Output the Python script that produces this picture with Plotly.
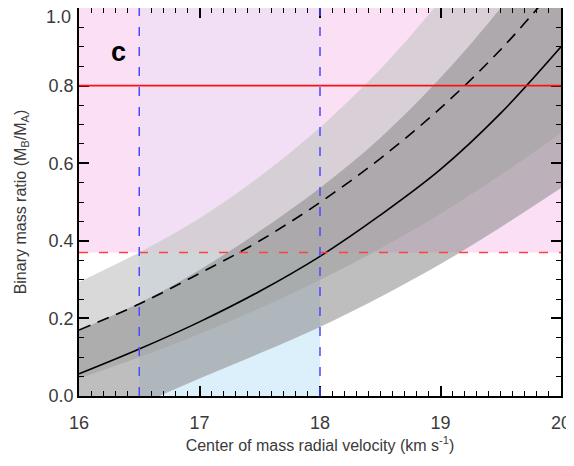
import plotly.graph_objects as go

# ---- data ----
velocity = [16.0, 16.5, 17.0, 17.5, 18.0, 18.5, 19.0, 19.5, 20.0]
ratio_solid = [0.057, 0.121, 0.191, 0.270, 0.360, 0.466, 0.584, 0.729, 0.900]
ratio_dashed = [0.170, 0.237, 0.316, 0.400, 0.499, 0.612, 0.742, 0.893, 1.070]
bandA_upper = [0.294, 0.370, 0.458, 0.566, 0.692, 0.842, 1.020, 1.220, 1.440]
bandA_lower = [0.045, 0.100, 0.160, 0.226, 0.299, 0.380, 0.470, 0.570, 0.678]
bandB_upper = [0.170, 0.240, 0.325, 0.425, 0.536, 0.665, 0.820, 1.000, 1.200]
bandB_lower = [-0.085, -0.022, 0.045, 0.110, 0.178, 0.255, 0.340, 0.435, 0.536]

q_limit_solid = 0.8
q_limit_dashed = 0.37
v_lo, v_hi = 16.5, 18.0
x_range = [16, 20]
y_range = [0, 1.0]
x_ticks = [16, 17, 18, 19, 20]
y_ticks = [0.0, 0.2, 0.4, 0.6, 0.8, 1.0]
y_ticktext = ["0.0", "0.2", "0.4", "0.6", "0.8", ""]
top_label = "1.0"

PINK = "rgb(251,223,245)"
LAV = "rgb(243,223,245)"
BLUE = "rgb(220,240,252)"
FONT = "Liberation Sans, Arial, sans-serif"
TXT = "#3a3a3a"

fig = go.Figure()

# bands
fig.add_trace(go.Scatter(x=velocity, y=bandA_lower, mode="lines", line=dict(width=0, shape="spline"),
                         hoverinfo="skip", showlegend=False))
fig.add_trace(go.Scatter(x=velocity, y=bandA_upper, mode="lines", line=dict(width=0, shape="spline"),
                         fill="tonexty", fillcolor="rgba(202,202,202,0.72)", hoverinfo="skip", showlegend=False))
fig.add_trace(go.Scatter(x=velocity, y=bandB_lower, mode="lines", line=dict(width=0, shape="spline"),
                         hoverinfo="skip", showlegend=False))
fig.add_trace(go.Scatter(x=velocity, y=bandB_upper, mode="lines", line=dict(width=0, shape="spline"),
                         fill="tonexty", fillcolor="rgba(139,139,139,0.56)", hoverinfo="skip", showlegend=False))

# curves
fig.add_trace(go.Scatter(x=velocity, y=ratio_dashed, mode="lines",
                         line=dict(color="black", width=1.6, dash="12px,8px", shape="spline"),
                         showlegend=False))
fig.add_trace(go.Scatter(x=velocity, y=ratio_solid, mode="lines",
                         line=dict(color="black", width=1.6, shape="spline"),
                         showlegend=False))

# background regions
fig.add_shape(type="rect", xref="x", yref="y", x0=x_range[0], x1=x_range[1], y0=q_limit_dashed, y1=y_range[1],
              fillcolor=PINK, line_width=0, layer="below")
fig.add_shape(type="rect", xref="x", yref="y", x0=v_lo, x1=v_hi, y0=q_limit_dashed, y1=y_range[1],
              fillcolor=LAV, line_width=0, layer="below")
fig.add_shape(type="rect", xref="x", yref="y", x0=v_lo, x1=v_hi, y0=y_range[0], y1=q_limit_dashed,
              fillcolor=BLUE, line_width=0, layer="below")

# reference lines
fig.add_shape(type="line", xref="x", yref="y", x0=x_range[0], x1=x_range[1], y0=q_limit_solid, y1=q_limit_solid,
              line=dict(color="#ff1010", width=1.7))
fig.add_shape(type="line", xref="x", yref="y", x0=x_range[0], x1=x_range[1], y0=q_limit_dashed, y1=q_limit_dashed,
              line=dict(color="#ff4040", width=1.5, dash="9px,11px"))
for v in (v_lo, v_hi):
    fig.add_shape(type="line", xref="x", yref="y", x0=v, x1=v, y0=y_range[0], y1=y_range[1],
                  line=dict(color="#4a4aff", width=1.5, dash="9px,11px"))

fig.add_annotation(x=0.062, y=0.93, xref="paper", yref="paper", text="<b>c</b>", showarrow=False,
                   font=dict(family=FONT, size=27, color="black"))
fig.add_annotation(x=0, y=y_range[1], xref="paper", yref="y", text=top_label, showarrow=False,
                   xanchor="right", yanchor="middle", xshift=-6, yshift=-9,
                   font=dict(family=FONT, size=18, color=TXT))

axis_common = dict(showgrid=False, zeroline=False, showline=True, linecolor="black", linewidth=1.5,
                   mirror="ticks", ticks="inside", tickcolor="black", tickwidth=1.5, ticklen=10,
                   automargin=False, tickfont=dict(family=FONT, size=18, color=TXT))

fig.update_xaxes(range=x_range, tickvals=x_ticks, ticklabelstandoff=10,
                 minor=dict(dtick=0.1, ticks="inside", ticklen=5, tickcolor="black", tickwidth=1.2),
                 title=dict(text="Center of mass radial velocity (km s<sup>-1</sup>)",
                            font=dict(family=FONT, size=16, color=TXT), standoff=7),
                 **axis_common)
fig.update_yaxes(range=y_range, tickvals=y_ticks, ticktext=y_ticktext,
                 minor=dict(dtick=0.05, ticks="inside", ticklen=5, tickcolor="black", tickwidth=1.2),
                 title=dict(text="Binary mass ratio (M<sub>B</sub>/M<sub>A</sub>)",
                            font=dict(family=FONT, size=16, color=TXT), standoff=18),
                 **axis_common)

# page body has an 8px margin, so the figure is sized/offset to land the plot area at the reference position
fig.update_layout(width=566, height=458, margin=dict(l=71, r=13, t=0, b=70),
                  plot_bgcolor="white", paper_bgcolor="white", showlegend=False)

fig.write_html("out.html")
